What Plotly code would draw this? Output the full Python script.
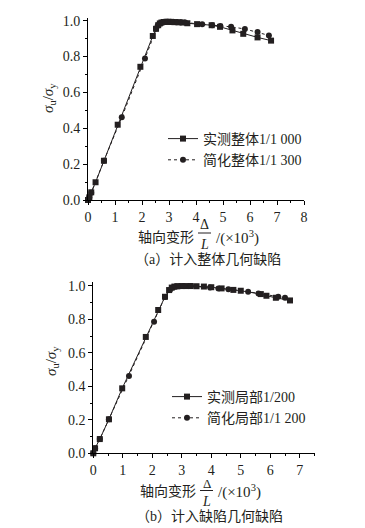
import plotly.graph_objects as go

# The page body adds an 8px offset, so the figure is 8px smaller and positions are shifted.
OFF = 8
W, H = 365 - OFF, 528 - OFF

# ---- Panel (a) data ----
a_meas_x = [0, 0.05, 0.12, 0.28, 0.59, 1.10, 1.94, 2.40, 2.52, 2.60, 2.66, 2.72, 2.80, 2.90, 3.00,
            3.10, 3.20, 3.35, 3.50, 3.68, 4.04, 4.58, 4.89, 5.35, 5.75, 6.28, 6.78]
a_meas_y = [0, 0.015, 0.043, 0.099, 0.219, 0.420, 0.743, 0.915, 0.955, 0.975, 0.985, 0.990, 0.993,
            0.994, 0.994, 0.993, 0.992, 0.991, 0.990, 0.986, 0.981, 0.975, 0.966, 0.946, 0.927, 0.907, 0.889]
a_simp_x = [0, 0.05, 0.12, 0.59, 1.25, 2.11, 2.52, 2.58, 2.64, 2.70, 2.78, 2.86, 2.95, 3.05, 3.15,
            3.30, 3.45, 3.60, 4.23, 4.60, 4.90, 5.30, 5.81, 6.28, 6.70]
a_simp_y = [0, 0.015, 0.040, 0.219, 0.461, 0.790, 0.955, 0.972, 0.982, 0.988, 0.992, 0.994, 0.995,
            0.995, 0.994, 0.993, 0.992, 0.990, 0.980, 0.975, 0.970, 0.966, 0.954, 0.937, 0.918]

# ---- Panel (b) data ----
b_meas_x = [0, 0.06, 0.22, 0.53, 0.98, 1.78, 2.20, 2.43, 2.57, 2.66, 2.75, 2.85, 3.00, 3.15, 3.30,
            3.50, 3.75, 4.00, 4.35, 4.75, 5.00, 5.68, 5.87, 6.19, 6.67]
b_meas_y = [0, 0.030, 0.085, 0.203, 0.388, 0.695, 0.856, 0.935, 0.975, 0.990, 0.996, 0.998, 0.999,
            0.999, 0.999, 0.998, 0.996, 0.992, 0.985, 0.976, 0.971, 0.951, 0.941, 0.929, 0.913]
b_simp_x = [0, 0.06, 0.22, 0.53, 1.21, 2.06, 2.43, 2.60, 2.70, 2.80, 2.90, 3.05, 3.31, 3.96, 4.24,
            4.58, 5.25, 5.60, 6.27, 6.50]
b_simp_y = [0, 0.030, 0.085, 0.203, 0.461, 0.786, 0.933, 0.975, 0.990, 0.996, 0.998, 0.999, 0.999,
            0.990, 0.985, 0.980, 0.965, 0.955, 0.935, 0.929]

names_a = ["实测整体1/1 000", "简化整体1/1 300"]
names_b = ["实测局部1/200", "简化局部1/1 200"]
y_ticks = [0.0, 0.2, 0.4, 0.6, 0.8, 1.0]

INK = "#231f20"
SERIF = "Liberation Serif, Noto Sans CJK SC, serif"
CJK = "Liberation Serif, Noto Sans CJK SC, serif"


def px(x):
    return (x - OFF) / W


def py(y):
    return 1 - (y - OFF) / H


fig = go.Figure()

def add(x, y, name, symbol, dash, xa, ya, legend):
    fig.add_trace(go.Scatter(
        x=x, y=y, name=name, mode="lines+markers", xaxis=xa, yaxis=ya, legend=legend,
        line=dict(color=INK, width=1, dash=dash),
        marker=dict(symbol=symbol, size=6, color=INK),
        cliponaxis=False,
    ))

add(a_meas_x, a_meas_y, names_a[0], "square", "solid", "x", "y", "legend")
add(a_simp_x, a_simp_y, names_a[1], "circle", "dot", "x", "y", "legend")
add(b_meas_x, b_meas_y, names_b[0], "square", "solid", "x2", "y2", "legend2")
add(b_simp_x, b_simp_y, names_b[1], "circle", "dot", "x2", "y2", "legend2")

axis_common = dict(
    showline=True, linecolor="black", linewidth=1, mirror=False,
    ticks="outside", ticklen=4, tickwidth=1, tickcolor="black",
    showgrid=False, zeroline=False, automargin=False,
    tickfont=dict(family=SERIF, size=14, color=INK),
)

fig.update_layout(
    width=W, height=H,
    margin=dict(l=0, r=0, t=0, b=0, autoexpand=False),
    paper_bgcolor="white", plot_bgcolor="white",
    xaxis=dict(domain=[px(88), px(304)], range=[0, 8], dtick=1, anchor="y",
               minor=dict(ticks="outside", ticklen=2, dtick=0.5, tickcolor="black"), **axis_common),
    yaxis=dict(domain=[py(200), py(18.4)], range=[0, 1.013], tickvals=y_ticks, tickformat=".1f",
               anchor="x", minor=dict(ticks="outside", ticklen=2, dtick=0.1, tickcolor="black"), **axis_common),
    xaxis2=dict(domain=[px(93.3), px(314.5)], range=[0, 7.5], dtick=1, anchor="y2",
                minor=dict(ticks="outside", ticklen=2, dtick=0.5, tickcolor="black"), **axis_common),
    yaxis2=dict(domain=[py(453.3), py(281.7)], range=[0, 1.025], tickvals=y_ticks, tickformat=".1f",
                anchor="x2", minor=dict(ticks="outside", ticklen=2, dtick=0.1, tickcolor="black"), **axis_common),
    legend=dict(x=px(163), y=py(123), xanchor="left", yanchor="top", bgcolor="rgba(0,0,0,0)",
                font=dict(family=CJK, size=14, color=INK), tracegroupgap=0),
    legend2=dict(x=px(167), y=py(381), xanchor="left", yanchor="top", bgcolor="rgba(0,0,0,0)",
                 font=dict(family=CJK, size=14, color=INK), tracegroupgap=0),
    showlegend=True,
)

def ann(text, x, y, size=14, angle=0, family=CJK, xanchor="center"):
    fig.add_annotation(text=text, x=px(x), y=py(y), xref="paper", yref="paper",
                       showarrow=False, xanchor=xanchor, yanchor="middle", textangle=angle,
                       font=dict(family=family, size=size, color=INK))

ylab = "<i>σ</i><sub>u</sub>/<i>σ</i><sub>y</sub>"
ann(ylab, 49, 98, size=15, angle=-90, family=SERIF)
ann(ylab, 52, 361, size=15, angle=-90, family=SERIF)

# x titles (a)
ann("轴向变形", 196, 237, xanchor="right")
ann("Δ", 204.7, 224, family=SERIF)
ann("<i>L</i>", 204.7, 245, family=SERIF)
ann("/(×10<sup>3</sup>)", 214, 237, size=15, family=SERIF, xanchor="left")
fig.add_shape(type="line", xref="paper", yref="paper", x0=px(198), x1=px(211),
              y0=py(233), y1=py(233), line=dict(color=INK, width=1))
ann("（a）计入整体几何缺陷", 208, 259)

# x titles (b)
ann("轴向变形", 198, 491, xanchor="right")
ann("Δ", 206.7, 483, size=13, family=SERIF)
ann("<i>L</i>", 206.7, 501, family=SERIF)
ann("/(×10<sup>3</sup>)", 216, 491, size=15, family=SERIF, xanchor="left")
fig.add_shape(type="line", xref="paper", yref="paper", x0=px(200), x1=px(213),
              y0=py(490.5), y1=py(490.5), line=dict(color=INK, width=1))
ann("（b）计入缺陷几何缺陷", 209, 516)

fig.write_html("out.html")
